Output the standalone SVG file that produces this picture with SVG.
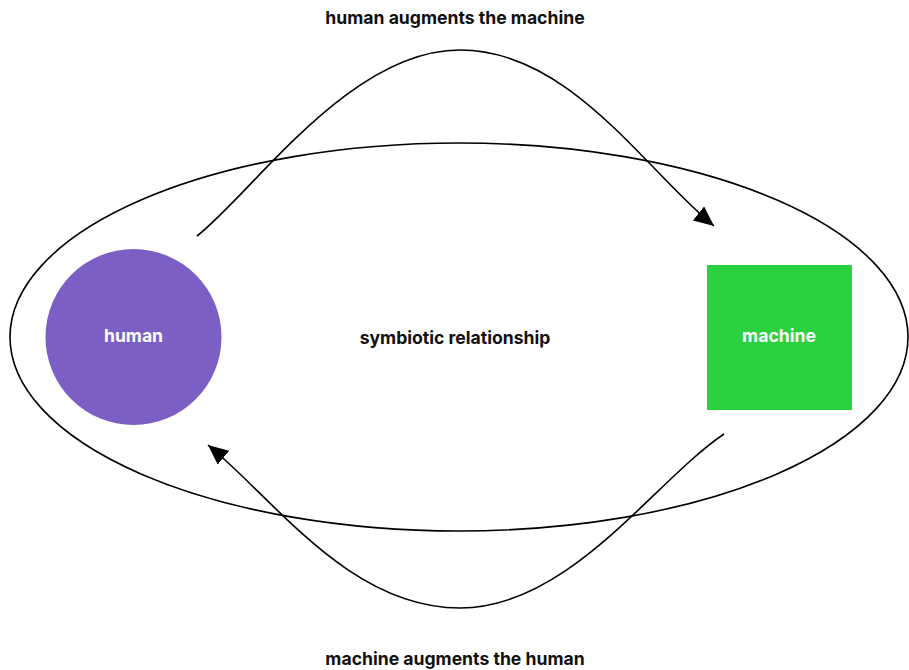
<svg xmlns="http://www.w3.org/2000/svg" width="909" height="670" viewBox="0 0 909 670">
<style>
.lbl{font-family:Inter,"Liberation Sans",sans-serif;font-weight:700;font-size:17.6px;fill:#111;text-anchor:middle}
.in{font-family:Inter,"Liberation Sans",sans-serif;font-weight:700;font-size:17.6px;fill:#fff;text-anchor:middle}
.edge{fill:none;stroke:#000;stroke-width:1.6}
</style>
<defs>
<marker id="arr" markerUnits="userSpaceOnUse" markerWidth="22" markerHeight="18" refX="20" refY="9" orient="auto">
<path d="M0,0 L20,9 L0,18 Z" fill="#000"/>
</marker>
</defs>
<rect width="909" height="670" fill="#fff"/>
<g id="symbiosis">
<ellipse cx="459" cy="337" rx="449" ry="194" fill="none" stroke="#000" stroke-width="1.6"/>
<text class="lbl" x="455" y="344">symbiotic relationship</text>
</g>
<g id="human">
<circle cx="133.5" cy="337" r="88" fill="#7b5fc4"/>
<text class="in" x="133.5" y="342">human</text>
</g>
<g id="machine">
<rect x="707" y="265" width="145" height="145" fill="#2bd03f"/>
<text class="in" x="779" y="342">machine</text>
</g>
<g id="connectors">
<path class="edge" d="M197,236 C255,190 350,50 460,50 C570,50 645,170 714,226" marker-end="url(#arr)"/>
<text class="lbl" x="455" y="24">human augments the machine</text>
<path class="edge" d="M724,434 C655,480 570,608 460,608 C350,608 275,500 208,445" marker-end="url(#arr)"/>
<text class="lbl" x="455" y="665">machine augments the human</text>
</g>
</svg>
